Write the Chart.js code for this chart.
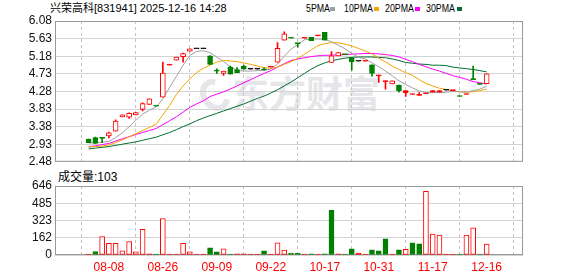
<!DOCTYPE html>
<html lang="zh-CN">
<head>
  <meta charset="UTF-8" />
  <title>兴荣高科 日K</title>
  <script src="https://cdn.jsdelivr.net/npm/chart.js"></script>
  <style>
    html, body { margin: 0; padding: 0; background: #fff; }
    #wrap { position: relative; width: 578px; height: 276px; overflow: hidden;
            font-family: "Liberation Sans", Arial, "Noto Sans CJK SC", sans-serif; color: #000; }
    .abs { position: absolute; white-space: nowrap; }
    #title { left: 50px; top: 1px; font-size: 11px; line-height: 14px; }
    .lg { top: 1px; font-size: 11px; line-height: 14px; transform: scaleX(0.8); transform-origin: left center; }
    .sq { position: absolute; top: 7px; width: 5px; height: 4px; }
    #volLabel { left: 58px; top: 169px; font-size: 12px; line-height: 16px; }
    #wm { left: 232px; top: 72px; font-size: 37px; line-height: 40px; font-weight: bold; color: #e6e6ea;
          font-family: "Noto Sans CJK SC", sans-serif; }
    #logo { left: 201px; top: 78px; width: 16px; height: 22px; border: 6px solid #e6e6ea; border-radius: 50%;
            border-right-color: transparent; transform: rotate(-35deg); }
    canvas { position: absolute; left: 0; }
    #priceCanvas { top: 0; }
    #volCanvas { top: 170px; }
  </style>
</head>
<body>
  <div id="wrap">
    <div id="logo" class="abs"></div>
    <div id="wm" class="abs">东方财富</div>
    <div id="title" class="abs">兴荣高科[831941] 2025-12-16 14:28</div>

    <!-- MA legend -->
    <div class="abs lg" style="left:306px">5PMA</div>
    <div class="sq" style="left:330px;background:#a0a0a0"></div>
    <div class="abs lg" style="left:344px">10PMA</div>
    <div class="sq" style="left:374px;background:#f4a300"></div>
    <div class="abs lg" style="left:385px">20PMA</div>
    <div class="sq" style="left:415px;background:#ff00ff"></div>
    <div class="abs lg" style="left:426px">30PMA</div>
    <div class="sq" style="left:457px;background:#006f2f"></div>

    <div id="volLabel" class="abs"></div>

    <canvas id="priceCanvas" width="578" height="172"></canvas>
    <canvas id="volCanvas" width="578" height="106"></canvas>
  </div>

  <script>
    // trading days shown on the chart
    const dates = [
      "08-05","08-06","08-07","08-08","08-11","08-12","08-14","08-15","08-18","08-19",
      "08-21","08-26","08-27","08-28","08-29","09-01","09-02","09-03","09-04","09-09",
      "09-10","09-11","09-12","09-15","09-16","09-18","09-19","09-22","09-23","09-24",
      "09-25","09-26","09-29","10-09","10-14","10-17","10-20","10-21","10-22","10-23",
      "10-24","10-27","10-29","10-31","11-03","11-04","11-05","11-07","11-10","11-12",
      "11-14","11-17","11-18","11-20","11-24","11-27","12-02","12-08","12-11","12-16"
    ];
    const tickDates = ["08-08","08-26","09-09","09-22","10-17","10-31","11-17","12-16"];

    const openP = [
      3.06,3.10,3.09,3.14,3.26,3.63,3.62,3.68,3.82,3.95,
      3.91,4.13,4.95,5.08,5.17,5.31,5.37,5.37,5.19,4.81,
      4.74,4.90,4.84,4.93,4.85,4.85,4.84,4.90,5.03,5.59,
      5.65,5.51,5.64,5.66,5.70,5.79,5.02,5.19,5.23,5.14,
      5.05,5.05,4.96,4.68,4.53,4.47,4.44,4.25,4.20,4.18,
      4.22,4.26,4.26,4.31,4.30,4.16,4.20,4.60,4.47,4.48
    ];
    const highP = [
      3.06,3.11,3.10,3.24,3.55,3.68,3.73,3.74,3.99,4.09,
      3.91,5.03,4.96,5.16,5.26,5.37,5.37,5.37,5.19,4.86,
      4.80,4.93,4.89,4.95,4.85,4.85,4.88,4.91,5.53,5.80,
      5.65,5.51,5.66,5.66,5.71,5.79,5.30,5.27,5.23,5.14,
      5.05,5.06,4.96,4.70,4.55,4.55,4.44,4.30,4.21,4.25,
      4.23,4.30,4.30,4.31,4.31,4.16,4.21,4.93,4.47,4.73
    ];
    const lowP = [
      2.97,2.95,2.97,3.09,3.26,3.63,3.59,3.68,3.78,3.95,
      3.90,4.13,4.95,5.08,5.03,5.31,5.37,5.37,4.97,4.74,
      4.69,4.72,4.76,4.85,4.85,4.85,4.82,4.90,5.03,5.59,
      5.64,5.41,5.64,5.58,5.70,5.59,5.02,5.19,5.22,4.82,
      5.05,5.05,4.67,4.51,4.34,4.47,4.26,4.15,4.20,4.18,
      4.22,4.26,4.26,4.31,4.30,4.15,4.20,4.58,4.46,4.48
    ];
    const closeP = [
      2.97,2.95,3.08,3.22,3.52,3.68,3.72,3.74,3.97,4.09,
      3.90,4.75,4.96,5.16,5.25,5.37,5.37,5.37,4.97,4.80,
      4.80,4.72,4.76,4.85,4.85,4.85,4.83,4.91,5.38,5.75,
      5.64,5.50,5.66,5.58,5.71,5.59,5.19,5.27,5.22,5.04,
      5.05,5.06,4.74,4.70,4.55,4.55,4.30,4.30,4.21,4.19,
      4.23,4.30,4.30,4.31,4.31,4.15,4.21,4.58,4.46,4.73
    ];
    const volume = [
      4,33,172,110,110,40,125,30,240,10,
      4,342,3,3,110,29,3,3,66,29,
      57,5,10,10,3,3,38,3,114,45,
      19,19,6,10,4,10,418,10,5,57,
      19,4,48,38,152,4,48,54,114,105,
      596,197,187,3,3,4,187,254,5,103
    ];

    const ma5 = [
      2.96,2.97,2.98,3.00,3.10,3.22,3.38,3.54,3.70,3.80,
      3.88,4.09,4.38,4.66,4.95,5.20,5.30,5.32,5.27,5.16,
      5.04,4.91,4.82,4.80,4.80,4.81,4.82,4.85,4.98,5.18,
      5.36,5.48,5.60,5.62,5.62,5.61,5.55,5.46,5.37,5.25,
      5.15,5.11,5.01,4.91,4.80,4.68,4.55,4.46,4.37,4.29,
      4.25,4.25,4.25,4.26,4.28,4.27,4.26,4.30,4.34,4.41
    ];
    const ma10 = [
      2.86,2.87,2.88,2.91,2.97,3.04,3.12,3.20,3.28,3.36,
      3.44,3.68,3.92,4.20,4.42,4.60,4.76,4.87,4.95,5.03,
      5.07,5.06,5.04,5.01,4.97,4.93,4.89,4.87,4.90,4.97,
      5.04,5.12,5.23,5.34,5.45,5.50,5.53,5.52,5.49,5.44,
      5.38,5.31,5.24,5.13,5.03,4.93,4.84,4.76,4.69,4.58,
      4.48,4.42,4.36,4.33,4.29,4.27,4.26,4.27,4.30,4.34
    ];
    const ma20 = [
      2.86,2.89,2.92,2.95,3.01,3.07,3.12,3.18,3.23,3.28,
      3.33,3.43,3.53,3.63,3.75,3.87,3.96,4.04,4.15,4.21,
      4.27,4.34,4.42,4.50,4.58,4.66,4.74,4.81,4.90,4.99,
      5.07,5.11,5.14,5.17,5.19,5.20,5.21,5.21,5.22,5.23,
      5.24,5.25,5.25,5.24,5.22,5.20,5.16,5.10,5.04,4.97,
      4.91,4.85,4.80,4.74,4.68,4.64,4.59,4.53,4.50,4.47
    ];
    const ma30 = [
      2.81,2.83,2.85,2.87,2.90,2.93,2.96,2.99,3.03,3.07,
      3.11,3.17,3.23,3.30,3.38,3.45,3.53,3.60,3.66,3.72,
      3.78,3.84,3.90,3.96,4.03,4.10,4.16,4.24,4.32,4.42,
      4.52,4.63,4.74,4.85,4.94,5.01,5.06,5.10,5.13,5.15,
      5.16,5.16,5.16,5.15,5.14,5.11,5.07,5.02,5.00,4.98,
      4.97,4.95,4.95,4.94,4.90,4.88,4.86,4.84,4.81,4.78
    ];

    const priceTicks = [2.48, 2.93, 3.38, 3.83, 4.28, 4.73, 5.18, 5.63, 6.08];
    const volTicks = [0, 162, 323, 485, 646];

    // ---- styling helpers ----
    const FONT = '"Liberation Sans", Arial, sans-serif';
    const RED = "#ff0000", GREEN = "#008000", BLACK = "#000000";
    const tickIdx = tickDates.map(d => dates.indexOf(d));

    function candleColor(i) {
      if (closeP[i] > openP[i]) return RED;
      if (closeP[i] < openP[i]) return GREEN;
      return BLACK;
    }
    function bodyFill(i) {
      // red candles are hollow unless the body is too thin to show a hole
      if (closeP[i] > openP[i] && closeP[i] - openP[i] >= 0.05) return "#ffffff";
      return candleColor(i);
    }
    function volUp(i) { return i === 0 || closeP[i] >= closeP[i - 1]; }

    const frame = {
      id: "frame",
      beforeDatasetsDraw(chart) {
        const { ctx, chartArea: a } = chart;
        ctx.save();
        ctx.strokeStyle = "#999999";
        ctx.lineWidth = 1;
        ctx.strokeRect(a.left + 0.5, a.top + 0.5, a.right - a.left - 1, a.bottom - a.top - 1);
        ctx.restore();
      }
    };

    function xAxis(showLabels, height) {
      return {
        type: "linear",
        min: -0.65,
        max: dates.length - 1 + 1.05,
        afterBuildTicks: s => { s.ticks = tickIdx.map(v => ({ value: v })); },
        afterFit: s => { s.height = height; },
        grid: { color: "#c4c4c4", lineWidth: 1, drawTicks: false },
        border: { display: false, dash: [3, 3] },
        ticks: {
          display: showLabels, autoSkip: false, maxRotation: 0, padding: 5,
          color: RED, font: { size: 12, family: FONT },
          callback: v => dates[v]
        }
      };
    }

    function yAxis(min, max, ticks, fmt) {
      return {
        min: min, max: max,
        afterBuildTicks: s => { s.ticks = ticks.map(v => ({ value: v })); },
        afterFit: s => { s.width = 55; },
        grid: { color: "#d4d4d4", drawTicks: false },
        border: { display: false },
        ticks: { autoSkip: false, padding: 3, color: "#111", font: { size: 12, family: FONT }, callback: fmt }
      };
    }

    const pts = arr => arr.map((v, i) => ({ x: i, y: v }));
    const maLine = (label, arr, color) => ({
      type: "line", label: label, data: pts(arr), order: 3,
      borderColor: color, borderWidth: 1, pointRadius: 0, tension: 0
    });

    // ---- price panel ----
    new Chart(document.getElementById("priceCanvas"), {
      data: {
        datasets: [
          {
            type: "bar", label: "body", order: 0, grouped: false,
            data: openP.map((o, i) => ({ x: i, y: [o, closeP[i]] })),
            barThickness: 5, minBarLength: 1, borderWidth: 1, borderSkipped: false,
            backgroundColor: c => bodyFill(c.dataIndex),
            borderColor: c => candleColor(c.dataIndex)
          },
          {
            type: "bar", label: "wick", order: 1, grouped: false,
            data: lowP.map((l, i) => ({ x: i, y: [l, highP[i]] })),
            barThickness: 1, borderWidth: 0,
            backgroundColor: c => candleColor(c.dataIndex)
          },
          maLine("5PMA", ma5, "#a0a0a0"),
          maLine("10PMA", ma10, "#f4a300"),
          maLine("20PMA", ma20, "#ff00ff"),
          maLine("30PMA", ma30, "#006f2f")
        ]
      },
      options: {
        responsive: false, animation: false, events: [],
        layout: { padding: { top: 21, right: 55, bottom: 6, left: 0 } },
        plugins: { legend: { display: false }, tooltip: { enabled: false } },
        scales: {
          x: xAxis(false, 0),
          y: yAxis(priceTicks[0], priceTicks[priceTicks.length - 1], priceTicks, v => v.toFixed(2))
        }
      },
      plugins: [frame]
    });

    // ---- volume panel ----
    new Chart(document.getElementById("volCanvas"), {
      type: "bar",
      data: {
        datasets: [{
          label: "成交量",
          data: volume.map((v, i) => ({ x: i, y: v })),
          barThickness: 5, minBarLength: 1, borderWidth: 1, borderSkipped: false,
          backgroundColor: c => volUp(c.dataIndex) ? (volume[c.dataIndex] >= 25 ? "#ffffff" : RED) : GREEN,
          borderColor: c => volUp(c.dataIndex) ? RED : GREEN
        }]
      },
      options: {
        responsive: false, animation: false, events: [],
        layout: { padding: { top: 16, right: 55, bottom: 0, left: 0 } },
        plugins: { legend: { display: false }, tooltip: { enabled: false } },
        scales: {
          x: xAxis(true, 21),
          y: yAxis(volTicks[0], volTicks[volTicks.length - 1], volTicks, v => String(v))
        }
      },
      plugins: [frame]
    });

    document.getElementById("volLabel").textContent = "成交量:" + volume[volume.length - 1];
  </script>
</body>
</html>
